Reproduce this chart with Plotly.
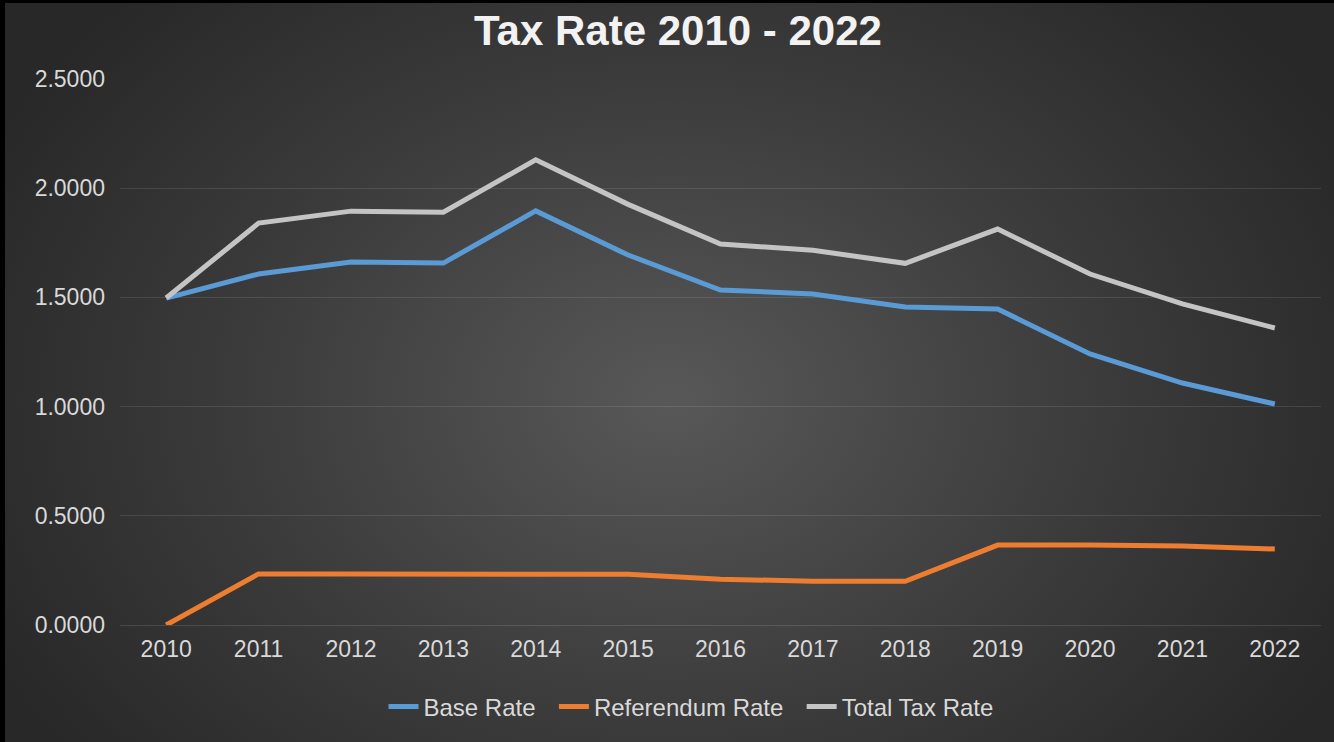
import base64
import plotly.graph_objects as go

years = ["2010", "2011", "2012", "2013", "2014", "2015", "2016",
         "2017", "2018", "2019", "2020", "2021", "2022"]
base_rate = [1.497, 1.607, 1.662, 1.657, 1.896, 1.694, 1.534,
             1.516, 1.456, 1.447, 1.241, 1.108, 1.012]
referendum_rate = [0.000, 0.234, 0.234, 0.234, 0.234, 0.232, 0.210,
                   0.200, 0.200, 0.366, 0.366, 0.362, 0.348]
total_tax_rate = [1.497, 1.840, 1.895, 1.890, 2.130, 1.926, 1.744,
                  1.716, 1.656, 1.813, 1.607, 1.470, 1.360]

W, H = 1334, 742
L, R, T, B = 120, 13, 79, 117

# Dark radial-gradient backdrop with a thin black frame on the top and left edges
svg = f"""<svg xmlns='http://www.w3.org/2000/svg' width='{W}' height='{H}' viewBox='0 0 {W} {H}'>
<defs><radialGradient id='g' gradientUnits='userSpaceOnUse' cx='670' cy='400' r='760'
 gradientTransform='translate(670 400) scale(1 0.75) translate(-670 -400)'>
<stop offset='0' stop-color='#585858'/><stop offset='0.55' stop-color='#3c3c3c'/>
<stop offset='1' stop-color='#282828'/></radialGradient></defs>
<rect width='{W}' height='{H}' fill='url(#g)'/>
<rect width='{W}' height='3' fill='#000'/>
<rect width='5' height='{H}' fill='#000'/>
</svg>"""
bg_uri = "data:image/svg+xml;base64," + base64.b64encode(svg.encode()).decode()

pw, ph = W - L - R, H - T - B
pad = "\u00a0\u00a0"  # extra room between legend entries

fig = go.Figure()
series = [
    ("Base Rate", base_rate, "#5B9BD5"),
    ("Referendum Rate", referendum_rate, "#ED7D31"),
    ("Total Tax Rate", total_tax_rate, "#C4C4C4"),
]
for name, vals, color in series:
    fig.add_trace(go.Scatter(
        x=years, y=vals, name=name + pad, mode="lines",
        line=dict(color=color, width=5),
    ))

fig.update_layout(
    width=W, height=H,
    margin=dict(l=L, r=R, t=T, b=B),
    paper_bgcolor="#303030",
    plot_bgcolor="rgba(0,0,0,0)",
    font=dict(family="Liberation Sans, Arial, sans-serif", color="#D9D9D9"),
    title=dict(
        text="<b>Tax Rate 2010 - 2022</b>",
        x=678 / W, xref="container", xanchor="center",
        y=1 - 30 / H, yref="container", yanchor="middle",
        font=dict(size=42, color="#F2F2F2"),
    ),
    showlegend=True,
    legend=dict(
        orientation="h", x=(698 - L) / pw, xanchor="center",
        y=(T + ph - 707) / ph, yanchor="middle",
        font=dict(size=24, color="#D9D9D9"),
        bgcolor="rgba(0,0,0,0)", itemwidth=30,
    ),
    xaxis=dict(
        type="category", range=[-0.5, len(years) - 0.5],
        showgrid=False, zeroline=False, showline=False,
        ticks="", tickfont=dict(size=23, color="#D9D9D9"),
        ticklabelstandoff=8,
    ),
    yaxis=dict(
        range=[0, 2.5], dtick=0.5, tickformat=".4f",
        showgrid=True, gridcolor="rgba(255,255,255,0.10)", gridwidth=1,
        zeroline=True, zerolinecolor="rgba(255,255,255,0.12)", zerolinewidth=1,
        showline=False, ticks="", tickfont=dict(size=23, color="#D9D9D9"),
        ticklabelstandoff=14,
    ),
    images=[dict(
        source=bg_uri, xref="paper", yref="paper",
        x=-L / pw, y=1 + T / ph, sizex=W / pw, sizey=H / ph,
        xanchor="left", yanchor="top", sizing="stretch", layer="below",
    )],
)

fig.write_html("out.html")
